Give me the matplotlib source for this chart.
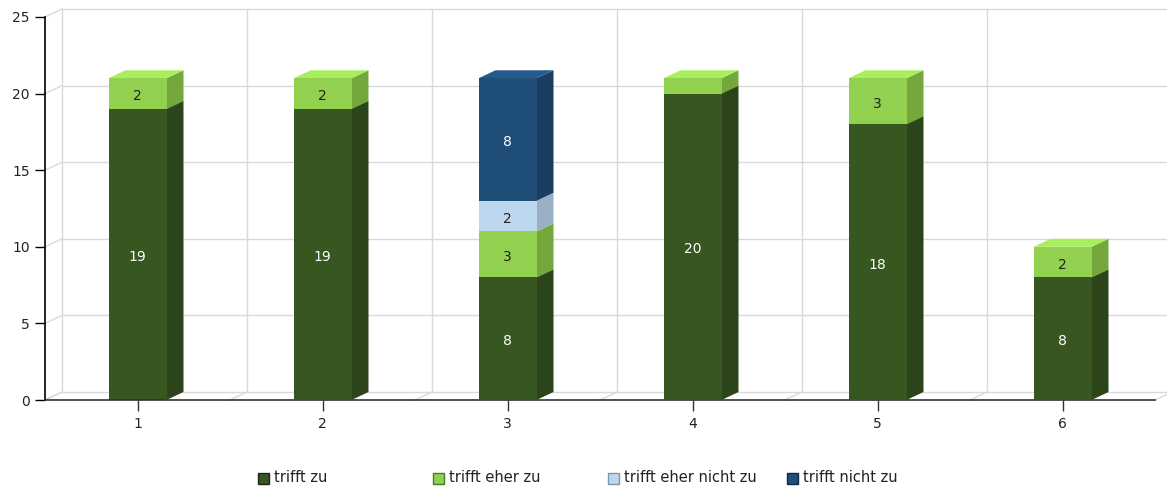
import matplotlib.pyplot as plt
from matplotlib.patches import Polygon, Rectangle
import numpy as np

# ── Data ──────────────────────────────────────────────────────────────────
categories = ["1", "2", "3", "4", "5", "6"]
series_names = ["trifft zu", "trifft eher zu", "trifft eher nicht zu", "trifft nicht zu"]
trifft_zu = [19, 19, 8, 20, 18, 8]
trifft_eher_zu = [2, 2, 3, 1, 3, 2]
trifft_eher_nicht_zu = [0, 0, 2, 0, 0, 0]
trifft_nicht_zu = [0, 0, 8, 0, 0, 0]
y_ticks = [0, 5, 10, 15, 20, 25]

# colours: front, side, top, label
styles = [
    ("#38561f", "#2b441a", "#3f6427", "white"),
    ("#92d050", "#74a83c", "#a8ef5e", "#222222"),
    ("#bdd7ee", "#9aafc4", "#d0e4f5", "#222222"),
    ("#1f4e79", "#1a3d60", "#245a8c", "white"),
]
legend_edge = ["#222222", "#4a7a2a", "#7f95aa", "#0f2a44"]

# ── Geometry ──────────────────────────────────────────────────────────────
W, H = 1167, 491
px_per_cat = 185.0
ymax = 25
ax_left, ax_right, ax_bot, ax_top = 45, 1167, 400, 9
px_per_unit = (400 - 17) / ymax
dx = 17 / px_per_cat
dy = 8 / px_per_unit
bw = 58 / px_per_cat
grid_c = "#d9d9d9"
lab_shift = 2.5 / px_per_unit

fig = plt.figure(figsize=(W / 100, H / 100), dpi=100)
ax = fig.add_axes([ax_left / W, (H - ax_bot) / H,
                   (ax_right - ax_left) / W, (ax_bot - ax_top) / H])
n = len(categories)
ax.set_xlim(0.5, 0.5 + (ax_right - ax_left) / px_per_cat)
ax.set_ylim(0, ymax + dy)
for s in ax.spines.values():
    s.set_visible(False)

# back wall and floor grid
for k in y_ticks:
    ax.plot([0.5 + dx, n + 0.5 + dx], [k + dy, k + dy], color=grid_c, lw=1, zorder=0, clip_on=False)
    ax.plot([0.5, 0.5 + dx], [k, k + dy], color=grid_c, lw=1, zorder=0, clip_on=False)
for b in np.arange(0.5, n + 1.0, 1.0):
    ax.plot([b + dx, b + dx], [dy, ymax + dy], color=grid_c, lw=1, zorder=0, clip_on=False)
    ax.plot([b, b + dx], [0, dy], color=grid_c, lw=1, zorder=0, clip_on=False)

# axes lines
ax.plot([0.5, 0.5], [0, ymax], color="black", lw=1.2, zorder=5, clip_on=False)
ax.plot([0.5, n + 0.5], [0, 0], color="#333333", lw=1.2, zorder=5, clip_on=False)

# ── Bars ──────────────────────────────────────────────────────────────────
series = [trifft_zu, trifft_eher_zu, trifft_eher_nicht_zu, trifft_nicht_zu]
z = 2
for i in range(n):
    x = i + 1
    x0, x1 = x - bw / 2, x + bw / 2
    bottom = 0
    for si, vals in enumerate(series):
        v = vals[i]
        if v == 0:
            continue
        top = bottom + v
        front, side, topc, lab = styles[si]
        ax.add_patch(Polygon([(x1, bottom), (x1 + dx, bottom + dy), (x1 + dx, top + dy), (x1, top)],
                             closed=True, facecolor=side, edgecolor="none", zorder=z))
        ax.add_patch(Polygon([(x0, top), (x0 + dx, top + dy), (x1 + dx, top + dy), (x1, top)],
                             closed=True, facecolor=topc, edgecolor="none", zorder=z))
        ax.add_patch(Rectangle((x0, bottom), bw, v, facecolor=front, edgecolor="none", zorder=z + 1))
        if v >= 2:
            ax.text(x, bottom + v / 2 - lab_shift, str(v), ha="center", va="center",
                    fontsize=10, color=lab, zorder=z + 2)
        z += 3
        bottom = top

# ── Ticks ─────────────────────────────────────────────────────────────────
ax.set_yticks(y_ticks)
ax.set_yticklabels([str(t) for t in y_ticks], fontsize=10, color="#222222")
ax.set_xticks(range(1, n + 1))
ax.set_xticklabels(categories, fontsize=10, color="#222222")
ax.tick_params(axis="y", length=7, width=1, pad=4, color="black")
ax.tick_params(axis="x", length=8, width=1, pad=4, color="#333333")

# ── Legend ────────────────────────────────────────────────────────────────
leg_x = [258, 433, 608, 787]
leg_y = 478
for j, name in enumerate(series_names):
    fig.patches.append(Rectangle(((leg_x[j]) / W, (H - leg_y - 6) / H), 11 / W, 11 / H,
                                 transform=fig.transFigure, facecolor=styles[j][0],
                                 edgecolor=legend_edge[j], lw=1))
    fig.text((leg_x[j] + 16) / W, (H - leg_y) / H, name, fontsize=10.5,
             color="#222222", va="center", ha="left")

fig.savefig("out.png", dpi=100)
